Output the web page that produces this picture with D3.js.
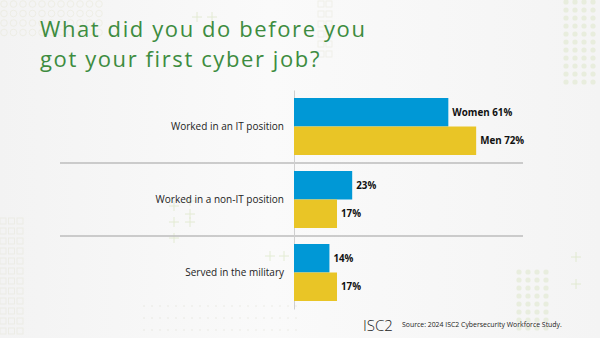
<!DOCTYPE html>
<html>
<head>
<meta charset="utf-8">
<script src="https://cdn.jsdelivr.net/npm/d3@7"></script>
<style>
  html, body { margin: 0; padding: 0; background: #f6f6f6; }
  svg { display: block; }
</style>
</head>
<body>
<svg id="chart" width="600" height="338"></svg>
<script>
// Survey answers, percent of respondents
const categories = ["Worked in an IT position", "Worked in a non-IT position", "Served in the military"];
const seriesNames = ["Women", "Men"];
const womenValues = [61, 23, 14];
const menValues = [72, 17, 17];
const titleLines = ["What did you do before you", "got your first cyber job?"];
const sourceText = "Source: 2024 ISC2 Cybersecurity Workforce Study.";

const W = 600, H = 338;
const svg = d3.select("#chart");
const font = "'Open Sans', 'Noto Sans', sans-serif";

// background
const defs = svg.append("defs");
const bg = defs.append("linearGradient").attr("id", "bg").attr("x1", 0).attr("x2", 1);
bg.append("stop").attr("offset", 0).attr("stop-color", "#f3f3f3");
bg.append("stop").attr("offset", 0.45).attr("stop-color", "#fafafa");
bg.append("stop").attr("offset", 1).attr("stop-color", "#f4f4f4");
svg.append("rect").attr("width", W).attr("height", H).attr("fill", "url(#bg)");

// faint decorative motifs
const deco = svg.append("g").attr("opacity", 0.55);
// ring grid, top-left
for (let r = 0; r < 4; r++) for (let c = 0; c < 11; c++) {
  deco.append("circle").attr("cx", 4 + c * 9.5).attr("cy", 4 + r * 9.5).attr("r", 3.3)
    .attr("fill", "none").attr("stroke", "#e6e6d2").attr("stroke-width", 0.8);
}
// square column, left
for (let r = 0; r < 12; r++) for (let c = 0; c < 3; c++) {
  deco.append("rect").attr("x", 0 + c * 8.5).attr("y", 218 + r * 10).attr("width", 6).attr("height", 6)
    .attr("fill", "none").attr("stroke", "#e4e4d4").attr("stroke-width", 0.8);
}
// square column near title
for (let r = 0; r < 6; r++) for (let c = 0; c < 2; c++) {
  deco.append("rect").attr("x", 318 + c * 8).attr("y", 1 + r * 10).attr("width", 6).attr("height", 6)
    .attr("fill", "none").attr("stroke", "#e6e6d6").attr("stroke-width", 0.8);
}
// dot grids, right
const dotGroups = [[566, 2, 4, 11], [519, 272, 4, 8]];
dotGroups.forEach(([x0, y0, cols, rows]) => {
  for (let r = 0; r < rows; r++) for (let c = 0; c < cols; c++) {
    deco.append("circle").attr("cx", x0 + c * 9).attr("cy", y0 + r * 8).attr("r", 2.6)
      .attr("fill", "#dfe8cc");
  }
});
// dotted field, bottom-left
for (let r = 0; r < 3; r++) for (let c = 0; c < 20; c++) {
  deco.append("circle").attr("cx", 144 + c * 8).attr("cy", 306 + r * 12).attr("r", 0.7).attr("fill", "#d8d8c8");
}
// plus marks
const plusMarks = [[197, 17], [212, 17], [576, 257], [576, 284], [270, 256], [284, 256], [174, 206], [190, 201], [174, 222], [190, 222], [190, 214], [174, 238]];
plusMarks.forEach(([x, y]) => {
  deco.append("path").attr("d", `M${x - 5},${y}H${x + 5}M${x},${y - 5}V${y + 5}`)
    .attr("stroke", "#cfe0b0").attr("stroke-width", 0.9);
});

// title, two lines
svg.append("g").selectAll("text").data(titleLines).join("text")
  .attr("x", 40).attr("y", (d, i) => 37 + i * 30)
  .attr("font-family", font).attr("font-size", 22).attr("letter-spacing", 1.6).attr("fill", "#3d8c40")
  .text(d => d);

// scales
const x = d3.scaleLinear().domain([0, 100]).range([294, 547]);
const y = d3.scaleBand().domain(categories).range([90, 309]);
const ySub = d3.scaleBand().domain(seriesNames).range([8, y.bandwidth() - 8]);
const colors = d3.scaleOrdinal().domain(seriesNames).range(["#0098d6", "#e9c526"]);

const rows = categories.map((c, i) => ({ category: c, values: [
  { series: "Women", value: womenValues[i] },
  { series: "Men", value: menValues[i] }
]}));

// separators between groups
svg.append("g").selectAll("line").data(categories.slice(1)).join("line")
  .attr("x1", 60).attr("x2", 523)
  .attr("y1", d => y(d)).attr("y2", d => y(d))
  .attr("stroke", "#bdbdbd").attr("stroke-width", 1.3);

// category axis on the left
const axis = d3.axisLeft(y).tickSize(0).tickPadding(10);
const axisG = svg.append("g").attr("transform", `translate(${x(0)},0)`).call(axis);
axisG.select(".domain").attr("stroke", "#cfcfcf").attr("stroke-width", 1);
axisG.selectAll("text").attr("font-family", font).attr("font-size", 10).attr("fill", "#222");

// bars
const groups = svg.append("g").selectAll("g").data(rows).join("g")
  .attr("transform", d => `translate(0,${y(d.category)})`);
groups.selectAll("rect").data(d => d.values).join("rect")
  .attr("x", x(0)).attr("y", d => ySub(d.series))
  .attr("width", d => x(d.value) - x(0)).attr("height", ySub.bandwidth())
  .attr("fill", d => colors(d.series));

// value labels
groups.selectAll("text").data((d, i) => d.values.map(v => ({ ...v, first: i === 0 }))).join("text")
  .attr("x", d => x(d.value) + 4).attr("y", d => ySub(d.series) + ySub.bandwidth() / 2)
  .attr("dy", "0.35em")
  .attr("font-family", font).attr("font-weight", 700).attr("font-size", 9.8)
  .attr("fill", "#111")
  .text(d => d.first ? `${d.series} ${d.value}%` : `${d.value}%`);

// footer
svg.append("text").attr("x", 363).attr("y", 331)
  .attr("font-family", font).attr("font-weight", 300).attr("font-size", 15).attr("fill", "#222")
  .text("ISC2");
svg.append("text").attr("x", 402).attr("y", 327)
  .attr("font-family", font).attr("font-size", 6.9).attr("fill", "#222")
  .text(sourceText);
</script>
</body>
</html>
